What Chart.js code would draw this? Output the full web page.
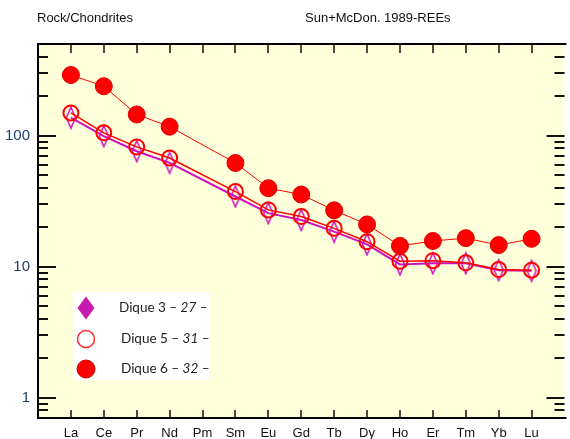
<!DOCTYPE html>
<html>
<head>
<meta charset="utf-8">
<script src="https://cdn.jsdelivr.net/npm/chart.js@4/dist/chart.umd.min.js"></script>
<style>
  html, body { margin: 0; padding: 0; background: #ffffff; overflow: hidden; }
  #wrap { width: 570px; height: 439px; overflow: hidden; position: relative; }
  canvas { display: block; }
</style>
</head>
<body>
<div id="wrap"><canvas id="ree" width="574" height="439"></canvas></div>
<script>
// Chondrite-normalised REE patterns (Sun & McDonough 1989)
const categories = ['La', 'Ce', 'Pr', 'Nd', 'Pm', 'Sm', 'Eu', 'Gd', 'Tb', 'Dy', 'Ho', 'Er', 'Tm', 'Yb', 'Lu'];
const dique3 = [137, 99, 76, 62, null, 34.3, 25.6, 22.7, 18.5, 14.8, 10.4, 10.6, 10.6, 9.4, 9.3];
const dique5 = [149, 105, 82, 67.5, null, 37.4, 27.1, 24.1, 19.6, 15.5, 11.0, 11.1, 10.7, 9.5, 9.4];
const dique6 = [290, 238, 145, 117, null, 61.8, 39.7, 35.5, 26.9, 21.0, 14.4, 15.7, 16.5, 14.6, 16.3];
const yTickValues = [1, 10, 100];
const yMinorSteps = [2, 3, 4, 5, 6, 7, 8, 9];
const titleLeft = 'Rock/Chondrites';
const titleRight = 'Sun+McDon. 1989-REEs';
const legendItems = [
  { name: 'Dique 3', num: '27', marker: 'diamond' },
  { name: 'Dique 5', num: '31', marker: 'open' },
  { name: 'Dique 6', num: '32', marker: 'filled' }
];

const RED = '#ff0000';
const MAGENTA = '#cc10c0';
const PLOT_BG = '#ffffdc';

// elongated open diamond used for Dique 3
function diamondImage(w, h, stroke, fill, lw) {
  const c = document.createElement('canvas');
  c.width = w; c.height = h;
  const g = c.getContext('2d');
  g.beginPath();
  g.moveTo(w / 2, lw);
  g.lineTo(w - lw, h / 2);
  g.lineTo(w / 2, h - lw);
  g.lineTo(lw, h / 2);
  g.closePath();
  if (fill) { g.fillStyle = fill; g.fill(); }
  g.lineWidth = lw; g.strokeStyle = stroke; g.stroke();
  return c;
}
const diamondPoint = diamondImage(12, 24, MAGENTA, null, 1.5);

function toPoints(values) {
  return values.map((v, i) => ({ x: i, y: v }));
}

const frame = {
  id: 'frame',
  beforeDraw(chart) {
    const a = chart.chartArea, ctx = chart.ctx;
    ctx.save();
    ctx.fillStyle = PLOT_BG;
    ctx.fillRect(a.left, a.top, a.right - a.left, a.bottom - a.top);
    ctx.restore();
  },
  afterDatasetsDraw(chart) {
    const a = chart.chartArea, ctx = chart.ctx;
    const xs = chart.scales.x, ys = chart.scales.y;
    ctx.save();
    ctx.strokeStyle = '#111';
    // y ticks (left and right, inward)
    const decades = [0.1, 1, 10, 100];
    ctx.lineWidth = 2;
    decades.forEach(d => {
      yMinorSteps.forEach(s => {
        const v = d * s;
        if (v < ys.min || v > ys.max) return;
        const y = Math.round(ys.getPixelForValue(v));
        ctx.beginPath();
        ctx.moveTo(a.left, y); ctx.lineTo(a.left + 10, y);
        ctx.moveTo(a.right, y); ctx.lineTo(a.right - 10, y);
        ctx.stroke();
      });
    });
    yTickValues.forEach(v => {
      const y = Math.round(ys.getPixelForValue(v));
      ctx.beginPath();
      ctx.moveTo(a.left, y); ctx.lineTo(a.left + 18, y);
      ctx.moveTo(a.right, y); ctx.lineTo(a.right - 18, y);
      ctx.stroke();
    });
    // x ticks (top and bottom, inward)
    ctx.lineWidth = 1.5;
    categories.forEach((c, i) => {
      const x = Math.round(xs.getPixelForValue(i));
      ctx.beginPath();
      ctx.moveTo(x, a.bottom); ctx.lineTo(x, a.bottom - 8);
      ctx.moveTo(x, a.top); ctx.lineTo(x, a.top + 9);
      ctx.stroke();
    });
    // frame: left, top and bottom edges
    ctx.lineWidth = 2;
    ctx.strokeStyle = '#000';
    ctx.beginPath();
    ctx.moveTo(a.right + 2, a.top);
    ctx.lineTo(a.left, a.top);
    ctx.lineTo(a.left, a.bottom);
    ctx.lineTo(a.right + 2, a.bottom);
    ctx.stroke();
    ctx.restore();
  },
  afterDraw(chart) {
    const ctx = chart.ctx;
    ctx.save();
    // headings
    ctx.fillStyle = '#111';
    ctx.font = '13px "Liberation Sans", Arial, sans-serif';
    ctx.textBaseline = 'middle';
    ctx.textAlign = 'left';
    ctx.fillText(titleLeft, 37, 18);
    ctx.fillText(titleRight, 305, 18);

    // legend panel
    ctx.fillStyle = '#ffffff';
    ctx.fillRect(73, 292, 136, 88);
    const rows = [308, 339, 369];
    legendItems.forEach((it, k) => {
      const cy = rows[k], cx = 86;
      if (it.marker === 'diamond') {
        ctx.beginPath();
        ctx.moveTo(cx, cy - 11.5); ctx.lineTo(cx + 8.5, cy);
        ctx.lineTo(cx, cy + 11.5); ctx.lineTo(cx - 8.5, cy);
        ctx.closePath();
        ctx.fillStyle = '#c81aae';
        ctx.fill();
      } else if (it.marker === 'open') {
        ctx.beginPath();
        ctx.arc(cx, cy, 8.5, 0, Math.PI * 2);
        ctx.lineWidth = 1.5; ctx.strokeStyle = '#ff2a2a';
        ctx.stroke();
      } else {
        ctx.beginPath();
        ctx.arc(cx, cy, 9, 0, Math.PI * 2);
        ctx.fillStyle = RED; ctx.fill();
        ctx.lineWidth = 1; ctx.strokeStyle = '#d00000'; ctx.stroke();
      }
      const tx = k === 0 ? 119 : 121;
      ctx.fillStyle = '#222';
      ctx.textBaseline = 'middle';
      ctx.font = '13.5px Lato, "Open Sans", sans-serif';
      const a = it.name + ' \u2013 ';
      ctx.fillText(a, tx, cy);
      let x = tx + ctx.measureText(a).width;
      ctx.font = 'italic 13.5px Lato, "Open Sans", sans-serif';
      ctx.fillText(it.num, x, cy);
      x += ctx.measureText(it.num).width;
      ctx.font = '13.5px Lato, "Open Sans", sans-serif';
      ctx.fillText(' \u2013', x, cy);
    });
    ctx.restore();
  }
};

new Chart(document.getElementById('ree'), {
  type: 'line',
  data: {
    datasets: [
      {
        label: 'Dique 3 – 27 –',
        data: toPoints(dique3),
        borderColor: MAGENTA,
        borderWidth: 2,
        pointStyle: diamondPoint,
        pointRadius: 6,
        spanGaps: true,
        order: 3
      },
      {
        label: 'Dique 5 – 31 –',
        data: toPoints(dique5),
        borderColor: RED,
        borderWidth: 1.5,
        pointStyle: 'circle',
        pointRadius: 7.5,
        pointBorderWidth: 2,
        pointBorderColor: RED,
        pointBackgroundColor: 'rgba(0,0,0,0)',
        spanGaps: true,
        order: 2
      },
      {
        label: 'Dique 6 – 32 –',
        data: toPoints(dique6),
        borderColor: RED,
        borderWidth: 1,
        pointStyle: 'circle',
        pointRadius: 8.5,
        pointBorderWidth: 1,
        pointBorderColor: '#e00000',
        pointBackgroundColor: RED,
        spanGaps: true,
        order: 1
      }
    ]
  },
  options: {
    responsive: false,
    animation: false,
    layout: { padding: { left: 0, top: 44, right: 3, bottom: 0 } },
    plugins: { legend: { display: false }, title: { display: false }, tooltip: { enabled: false } },
    elements: { line: { tension: 0 } },
    scales: {
      x: {
        type: 'linear',
        min: -1,
        max: 15,
        grid: { display: false, drawTicks: false },
        border: { display: false },
        afterBuildTicks: s => { s.ticks = categories.map((c, i) => ({ value: i })); },
        afterFit: s => { s.height = 21; },
        ticks: {
          autoSkip: false,
          maxRotation: 0,
          padding: 8,
          color: '#111',
          font: { family: '"Liberation Sans", Arial, sans-serif', size: 13 },
          callback: v => categories[v]
        }
      },
      y: {
        type: 'logarithmic',
        min: 0.7,
        max: 500,
        grid: { display: false, drawTicks: false },
        border: { display: false },
        afterBuildTicks: s => { s.ticks = yTickValues.map(v => ({ value: v })); },
        afterFit: s => { s.width = 38; },
        ticks: {
          padding: 8,
          color: '#1f3d73',
          font: { family: '"Liberation Sans", Arial, sans-serif', size: 15 },
          callback: v => String(v)
        }
      }
    }
  },
  plugins: [frame]
});
</script>
</body>
</html>
